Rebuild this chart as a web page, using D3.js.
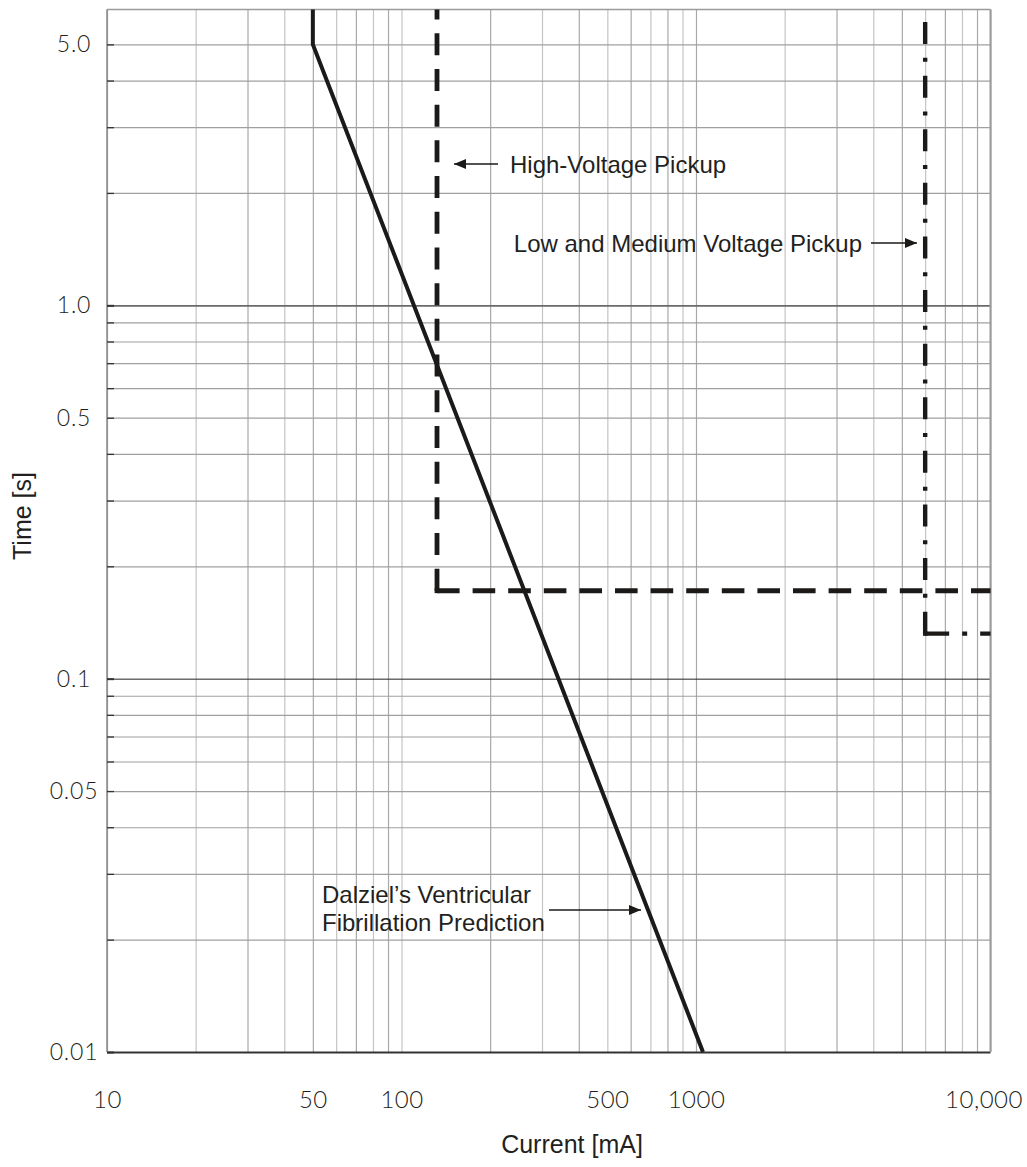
<!DOCTYPE html>
<html>
<head>
<meta charset="utf-8">
<script src="https://cdn.jsdelivr.net/npm/d3@7"></script>
<style>
  html, body { margin: 0; padding: 0; background: #fff; }
  svg { display: block; }
</style>
</head>
<body>
<svg id="chart" width="1027" height="1167"></svg>
<script>
// ---- data ----
const xDomain = [10, 10000];          // Current [mA]
const yDomain = [0.01, 6.2];          // Time [s]
const xTickValues = [10, 50, 100, 500, 1000, 10000];
const xTickLabels = ["10", "50", "100", "500", "1000", "10,000"];
const yTickValues = [0.01, 0.05, 0.1, 0.5, 1.0, 5.0];
const yTickLabels = ["0.01", "0.05", "0.1", "0.5", "1.0", "5.0"];

// Dalziel's ventricular fibrillation prediction: [current mA, time s]
const dalzielCurrent = [50, 50, 1056];
const dalzielTime = [6.2, 5.0, 0.01];
// High-voltage pickup (vertical part, then horizontal part)
const hvCurrent = [132, 132, 10000];
const hvTime = [6.2, 0.172, 0.172];
// Low and medium voltage pickup
const lmvCurrent = [6000, 6000, 10000];
const lmvTime = [6.2, 0.132, 0.132];

// ---- layout ----
const svg = d3.select("#chart");
const L = 107, R = 990.5, T = 9.5, B = 1052;
const x = d3.scaleLog().domain(xDomain).range([L, R]);
const y = d3.scaleLog().domain(yDomain).range([B, T]);
const ink = "#1c1a18";
const isMajor = d => Math.abs(Math.log10(d) - Math.round(Math.log10(d))) < 1e-9;

// vertical grid
const xGrid = x.ticks().filter(d => d >= 10 && d <= 10000);
const gx = svg.append("g").attr("transform", `translate(0,${B})`)
  .call(d3.axisBottom(x).tickValues(xGrid).tickSize(-(B - T)).tickFormat(""));
gx.select(".domain").remove();
gx.selectAll(".tick line")
  .attr("stroke", (d, i) => i % 2 === 0 ? "#a9a9a9" : "#c4c4c4")
  .attr("stroke-width", 1.2);

// horizontal grid
const yGrid = y.ticks().filter(d => d <= 5.0001);
const gy = svg.append("g").attr("transform", `translate(${L},0)`)
  .call(d3.axisLeft(y).tickValues(yGrid).tickSize(-(R - L)).tickFormat(""));
gy.select(".domain").remove();
gy.selectAll(".tick line")
  .attr("stroke", d => {
    if (Math.abs(d - 0.01) < 1e-9) return "#333";
    if (Math.abs(d - 0.1) < 1e-9) return "#222";
    if (Math.abs(d - 1) < 1e-9) return "#6a6a6a";
    return "#a0a0a0";
  })
  .attr("stroke-width", d => {
    if (Math.abs(d - 0.01) < 1e-9) return 1.8;
    if (Math.abs(d - 0.1) < 1e-9) return 1;
    if (Math.abs(d - 1) < 1e-9) return 1.6;
    return 1.2;
  });

// frame
svg.append("line").attr("x1", L).attr("x2", R).attr("y1", T).attr("y2", T)
  .attr("stroke", "#9a9a9a").attr("stroke-width", 1.5);
svg.append("line").attr("x1", R).attr("x2", R).attr("y1", T).attr("y2", B)
  .attr("stroke", "#9a9a9a").attr("stroke-width", 2);
svg.append("line").attr("x1", L).attr("x2", L).attr("y1", T).attr("y2", B)
  .attr("stroke", "#8a8a8a").attr("stroke-width", 1.5);

// small inner ticks on left axis
const gt = svg.append("g").attr("transform", `translate(${L},0)`)
  .call(d3.axisLeft(y).tickValues(yGrid).tickSize(-7).tickFormat(""));
gt.select(".domain").remove();
gt.selectAll(".tick line").attr("stroke", "#333").attr("stroke-width", d => isMajor(d) ? 2 : 1.3);

// tick labels
const tickFont = "Lato, 'DejaVu Sans', sans-serif";
const xl = svg.append("g").attr("transform", `translate(0,${B})`)
  .call(d3.axisBottom(x).tickValues(xTickValues).tickSize(0).tickPadding(39)
    .tickFormat((d, i) => xTickLabels[i]));
xl.select(".domain").remove();
xl.selectAll("text").attr("font-family", tickFont).attr("font-size", 24)
  .attr("font-weight", 300)
  .attr("fill", "#231f20").attr("letter-spacing", 0.5)
  .attr("dx", (d, i) => i === xTickValues.length - 1 ? -7 : 0);

const yl = svg.append("g").attr("transform", `translate(${L},0)`)
  .call(d3.axisLeft(y).tickValues(yTickValues).tickSize(0)
    .tickFormat((d, i) => yTickLabels[i]));
yl.select(".domain").remove();
yl.selectAll("text").attr("font-family", tickFont).attr("font-size", 23)
  .attr("font-weight", 300)
  .attr("fill", "#231f20").attr("letter-spacing", 0.8)
  .attr("text-anchor", "middle").attr("x", 74 - L);

// axis titles
const titleFont = "'Liberation Sans', Arial, sans-serif";
svg.append("text").attr("x", 572).attr("y", 1153).attr("text-anchor", "middle")
  .attr("font-family", titleFont).attr("font-size", 25).attr("fill", "#231f20")
  .text("Current [mA]");
svg.append("text").attr("transform", "translate(31,516) rotate(-90)")
  .attr("text-anchor", "middle")
  .attr("font-family", titleFont).attr("font-size", 25).attr("fill", "#231f20")
  .text("Time [s]");

// series
const line = d3.line().x(d => x(d[0])).y(d => y(d[1]));
const zip = (a, b) => a.map((v, i) => [v, b[i]]);

function stepped(cur, tim, width, vDash, hDash) {
  const pts = zip(cur, tim);
  // vertical part drawn from the corner upward so a dash meets the corner
  svg.append("path").datum([pts[1], pts[0]]).attr("d", line)
    .attr("fill", "none").attr("stroke", ink).attr("stroke-width", width)
    .attr("stroke-dasharray", vDash).attr("stroke-linecap", "butt");
  // horizontal part starts with a dash at the corner
  svg.append("path").datum([[pts[1][0], pts[1][1]], pts[2]]).attr("d", line)
    .attr("fill", "none").attr("stroke", ink).attr("stroke-width", width)
    .attr("stroke-dasharray", hDash).attr("stroke-linecap", "butt");
  // corner join
  svg.append("path").datum([[pts[1][0], pts[1][1]]]).attr("d", d => {
    const cx = x(d[0][0]), cy = y(d[0][1]);
    return `M${cx - width / 2},${cy - width / 2}h${width}v${width}h${-width}Z`;
  }).attr("fill", ink);
}

stepped(hvCurrent, hvTime, 4.8, "22,13.7", "22.6,13");
stepped(lmvCurrent, lmvTime, 4.4, "22,13.8,4,13.8", "24,13,5,13");

svg.append("path").datum(zip(dalzielCurrent, dalzielTime)).attr("d", line)
  .attr("fill", "none").attr("stroke", ink).attr("stroke-width", 4)
  .attr("stroke-linejoin", "miter");

// annotations
const defs = svg.append("defs");
defs.append("marker").attr("id", "arrow").attr("viewBox", "0 0 12 10")
  .attr("refX", 12).attr("refY", 5).attr("markerWidth", 12).attr("markerHeight", 10)
  .attr("markerUnits", "userSpaceOnUse").attr("orient", "auto")
  .append("path").attr("d", "M0,0 L12,5 L0,10 Z").attr("fill", ink);

function arrow(x1, y1, x2, y2) {
  svg.append("line").attr("x1", x1).attr("y1", y1).attr("x2", x2).attr("y2", y2)
    .attr("stroke", ink).attr("stroke-width", 1.6).attr("marker-end", "url(#arrow)");
}
const annFont = "'Liberation Sans', Arial, sans-serif";
function label(tx, ty, s, anchor) {
  svg.append("text").attr("x", tx).attr("y", ty).attr("text-anchor", anchor || "start")
    .attr("font-family", annFont).attr("font-size", 24).attr("fill", "#231f20").text(s);
}

arrow(498, 164, 454, 164);
label(510, 173, "High-Voltage Pickup");

arrow(871, 243, 917, 243);
label(862, 252, "Low and Medium Voltage Pickup", "end");

arrow(549, 910, 641, 910);
label(322, 903, "Dalziel\u2019s Ventricular");
label(322, 931, "Fibrillation Prediction");
</script>
</body>
</html>
